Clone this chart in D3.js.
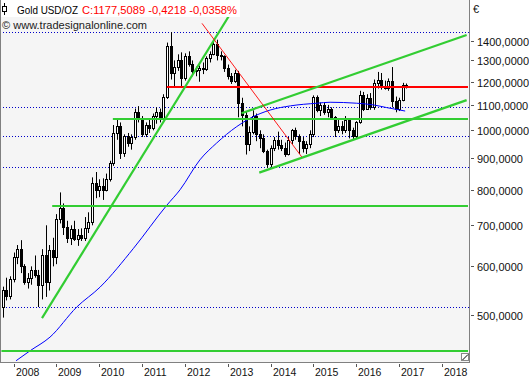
<!DOCTYPE html>
<html><head><meta charset="utf-8">
<script src="https://cdn.jsdelivr.net/npm/d3@7"></script>
<style>
html,body{margin:0;padding:0;background:#fff;overflow:hidden}
svg{display:block}
text{font-family:"Liberation Sans",Arial,sans-serif}
</style>
</head><body>
<svg id="chart" width="529" height="380"></svg>
<script>
// ---------- DATA ----------
const months = [
 "2007-10","2007-11","2007-12",
 "2008-01","2008-02","2008-03","2008-04","2008-05","2008-06","2008-07","2008-08","2008-09","2008-10","2008-11","2008-12",
 "2009-01","2009-02","2009-03","2009-04","2009-05","2009-06","2009-07","2009-08","2009-09","2009-10","2009-11","2009-12",
 "2010-01","2010-02","2010-03","2010-04","2010-05","2010-06","2010-07","2010-08","2010-09","2010-10","2010-11","2010-12",
 "2011-01","2011-02","2011-03","2011-04","2011-05","2011-06","2011-07","2011-08","2011-09","2011-10","2011-11","2011-12",
 "2012-01","2012-02","2012-03","2012-04","2012-05","2012-06","2012-07","2012-08","2012-09","2012-10","2012-11","2012-12",
 "2013-01","2013-02","2013-03","2013-04","2013-05","2013-06","2013-07","2013-08","2013-09","2013-10","2013-11","2013-12",
 "2014-01","2014-02","2014-03","2014-04","2014-05","2014-06","2014-07","2014-08","2014-09","2014-10","2014-11","2014-12",
 "2015-01","2015-02","2015-03","2015-04","2015-05","2015-06","2015-07","2015-08","2015-09","2015-10","2015-11","2015-12",
 "2016-01","2016-02","2016-03","2016-04","2016-05","2016-06","2016-07","2016-08","2016-09","2016-10","2016-11","2016-12",
 "2017-01","2017-02","2017-03"
];
const opens = [
 515,550,537,
 572,622,640,600,565,575,592,580,560,625,565,638,
 622,718,748,695,668,690,666,676,668,692,710,822,
 800,812,800,832,885,990,1018,918,978,955,975,1070,
 1045,985,1022,1010,1055,1070,1045,1135,1370,1240,1270,1300,
 1215,1320,1285,1250,1255,1265,1260,1310,1330,1385,1325,1320,
 1262,1225,1205,1240,1110,1060,950,995,1055,985,970,925,
 880,935,965,945,935,915,965,1000,978,960,935,950,
 985,1132,1080,1100,1070,1085,1050,1000,1015,1000,1040,1000,
 980,1030,1140,1085,1130,1090,1195,1210,1175,1172,1205,1115,
 1085,1122,1185
];
const highs = [
 556,575,578,
 632,650,662,605,585,600,625,592,640,700,650,668,
 730,792,760,712,700,712,690,692,722,735,838,855,
 832,835,850,892,1020,1045,1030,985,990,985,1085,1095,
 1055,1030,1045,1065,1090,1085,1145,1390,1446,1300,1330,1340,
 1335,1345,1300,1270,1275,1290,1320,1345,1400,1405,1345,1325,
 1280,1240,1255,1250,1130,1075,1015,1078,1065,1000,985,930,
 945,975,995,965,955,975,1005,1010,985,975,960,1000,
 1140,1140,1110,1110,1100,1090,1055,1045,1035,1055,1045,1010,
 1035,1160,1155,1145,1150,1210,1245,1240,1205,1215,1268,1135,
 1130,1195,1192
];
const lows = [
 495,528,530,
 565,605,585,560,552,560,575,515,530,535,548,600,
 605,705,675,655,650,660,648,660,660,680,700,775,
 778,770,795,825,875,965,898,905,940,930,965,1030,
 975,975,990,1000,1025,1030,1040,1125,1210,1175,1250,1180,
 1205,1270,1225,1225,1200,1235,1250,1290,1325,1300,1300,1245,
 1210,1190,1195,1050,1015,913,925,985,960,935,918,868,
 870,925,930,925,905,910,950,965,915,920,915,935,
 975,1070,1055,1060,1050,1040,975,990,985,990,970,965,
 970,1025,1075,1080,1080,1080,1170,1165,1165,1160,1090,1070,
 1075,1115,1170
];
const closes = [
 550,537,572,
 622,640,600,565,575,592,580,560,625,565,638,622,
 718,748,695,668,690,666,676,668,692,710,822,800,
 812,800,832,885,990,1018,918,978,955,975,1070,1045,
 985,1022,1010,1055,1070,1045,1135,1370,1240,1270,1300,1215,
 1320,1285,1250,1255,1265,1260,1310,1330,1385,1325,1320,1262,
 1225,1205,1240,1110,1060,950,995,1055,985,970,925,880,
 935,965,945,935,915,965,1000,978,960,935,950,985,
 1132,1080,1100,1070,1085,1050,1000,1015,1000,1040,1000,980,
 1030,1140,1085,1130,1090,1195,1210,1175,1172,1205,1115,1085,
 1122,1185,1177.5
];

// moving average (blue)
const maDates = ["2008-01-23","2008-05-21","2008-11-07","2009-06-23","2010-01-08","2010-10-20","2011-07-29","2011-11-21",
 "2012-05-08","2012-09-27","2013-03-18","2013-07-09","2013-12-28","2014-06-18","2015-01-30","2015-05-23",
 "2016-01-05","2016-05-27","2016-09-16","2017-02-21"];
const maValues = [421,437,460,515,555,642,754,800,895,953,1014,1046,1079,1096,1107,1111,1107,1100,1089,1075];

// horizontal levels
const greenLevels = [437, 754, 1045];
const greenLevelStarts = ["2007-09-20","2008-11-26","2010-04-27"];
const redLevels = [1178];
const redLevelStarts = ["2011-07-31"];
const dottedLevels = [1446, 1092, 979, 872, 515];

// trend lines
const greenTrendStart = ["2008-08-31","2013-04-28","2013-09-26"];
const greenTrendStartPrice = [494, 1066, 853];
const greenTrendEnd = ["2013-04-05","2018-07-30","2018-07-30"];
const greenTrendEndPrice = [1631, 1430, 1120];
const redTrendStart = ["2012-05-26"];
const redTrendStartPrice = [1494];
const redTrendEnd = ["2014-09-23"];
const redTrendEndPrice = [905];

const yTicks = [500,600,700,800,900,1000,1100,1200,1300,1400];
const xTickYears = [2008,2009,2010,2011,2012,2013,2014,2015,2016,2017,2018];

const titleText = "Gold USD/OZ";
const quoteText = "C:1177,5089 -0,4218 -0,0358%";
const copyrightText = "\u00A9 www.tradesignalonline.com";
const currencyText = "\u20AC";

// ---------- CHART ----------
const svg = d3.select("#chart");
const plotW = 469, plotH = 362;
const parse = d3.timeParse("%Y-%m-%d");
const parseM = d3.timeParse("%Y-%m");

const x = d3.scaleTime().domain([new Date(2008,0,1), new Date(2018,0,1)]).range([13.5, 442]);
const y = d3.scaleLog().domain([419, 1631]).range([plotH, 0]);
const loc = d3.formatLocale({decimal:",", thousands:".", grouping:[3], currency:["","€"]});
const fmt = loc.format(".4f");

svg.append("defs").append("clipPath").attr("id","clip")
  .append("rect").attr("x",0).attr("y",0).attr("width",plotW).attr("height",plotH);

svg.append("rect").attr("x",0).attr("y",0).attr("width",plotW).attr("height",plotH).attr("fill","#f5f5f5");

const plot = svg.append("g").attr("clip-path","url(#clip)");

// dotted levels
plot.selectAll(".dot").data(dottedLevels).enter().append("line")
  .attr("x1",0).attr("x2",plotW)
  .attr("y1",d=>Math.round(y(d))+0.5).attr("y2",d=>Math.round(y(d))+0.5)
  .attr("stroke","#0000c8").attr("stroke-width",1).attr("stroke-dasharray","1,2");

// legend box
svg.append("rect").attr("x",1).attr("y",0).attr("width",239).attr("height",17).attr("fill","#ffffff");

// candles
const candles = months.map((m,i)=>({d:parseM(m),o:opens[i],h:highs[i],l:lows[i],c:closes[i]}));
const cg = plot.append("g");
candles.forEach(k=>{
  const cx = Math.round(x(k.d));
  cg.append("line").attr("x1",cx+0.5).attr("x2",cx+0.5)
    .attr("y1",y(k.h)).attr("y2",y(k.l)).attr("stroke","#000").attr("stroke-width",1);
  const top = Math.round(Math.min(y(k.o),y(k.c)));
  const bot = Math.round(Math.max(y(k.o),y(k.c)));
  cg.append("rect").attr("x",cx-0.5).attr("y",top+0.5).attr("width",2)
    .attr("height",Math.max(1,bot-top))
    .attr("fill", k.c>=k.o ? "#ffffff" : "#000000")
    .attr("stroke","#000").attr("stroke-width",1);
});

// moving average
const maLine = d3.line().x(d=>x(d[0])).y(d=>y(d[1])).curve(d3.curveMonotoneX);
plot.append("path").datum(maDates.map((d,i)=>[parse(d),maValues[i]]))
  .attr("d",maLine).attr("fill","none").attr("stroke","#0000ff").attr("stroke-width",1);

// horizontal levels
const xEnd = plotW - 1;
plot.selectAll(".gl").data(greenLevels).enter().append("line")
  .attr("x1",(d,i)=>x(parse(greenLevelStarts[i]))).attr("x2",xEnd)
  .attr("y1",d=>Math.round(y(d))).attr("y2",d=>Math.round(y(d)))
  .attr("stroke","#32cd32").attr("stroke-width",2);
plot.selectAll(".rl").data(redLevels).enter().append("line")
  .attr("x1",(d,i)=>x(parse(redLevelStarts[i]))).attr("x2",xEnd)
  .attr("y1",d=>Math.round(y(d))).attr("y2",d=>Math.round(y(d)))
  .attr("stroke","#ff0000").attr("stroke-width",2);

// trend lines
plot.selectAll(".gt").data(greenTrendStart).enter().append("line")
  .attr("x1",d=>x(parse(d))).attr("y1",(d,i)=>y(greenTrendStartPrice[i]))
  .attr("x2",(d,i)=>x(parse(greenTrendEnd[i]))).attr("y2",(d,i)=>y(greenTrendEndPrice[i]))
  .attr("stroke","#32cd32").attr("stroke-width",2.2);
plot.selectAll(".rt").data(redTrendStart).enter().append("line")
  .attr("x1",d=>x(parse(d))).attr("y1",(d,i)=>y(redTrendStartPrice[i]))
  .attr("x2",(d,i)=>x(parse(redTrendEnd[i]))).attr("y2",(d,i)=>y(redTrendEndPrice[i]))
  .attr("stroke","#ff0000").attr("stroke-width",0.9);

// frame
svg.append("line").attr("x1",0.5).attr("x2",0.5).attr("y1",0).attr("y2",plotH).attr("stroke","#808080");
svg.append("line").attr("x1",plotW+0.5).attr("x2",plotW+0.5).attr("y1",0).attr("y2",plotH+0.5).attr("stroke","#808080");
svg.append("line").attr("x1",0).attr("x2",plotW+1).attr("y1",plotH+0.5).attr("y2",plotH+0.5).attr("stroke","#808080");

// corner icon
svg.append("rect").attr("x",461.5).attr("y",353.5).attr("width",7).attr("height",7).attr("fill","#fff").attr("stroke","#888");
svg.append("line").attr("x1",462.5).attr("y1",360).attr("x2",468).attr("y2",354.5).attr("stroke","#000");

// right axis
const yAxis = svg.append("g");
yTicks.forEach(t=>{
  const yy = Math.round(y(t))+0.5;
  yAxis.append("line").attr("x1",471).attr("x2",474).attr("y1",yy).attr("y2",yy).attr("stroke","#555");
  yAxis.append("text").attr("x",477).attr("y",yy+4).attr("font-size","11px").attr("fill","#111").text(fmt(t));
});
svg.append("text").attr("x",473).attr("y",13).attr("font-size","11px").attr("fill","#111").text(currencyText);

// bottom axis
const xAxis = svg.append("g");
xTickYears.forEach(yr=>{
  const xx = Math.round(x(new Date(yr,0,1)))+0.5;
  xAxis.append("line").attr("x1",xx).attr("x2",xx).attr("y1",364).attr("y2",367).attr("stroke","#555");
  xAxis.append("text").attr("x",xx+1.5).attr("y",376).attr("font-size","10.5px").attr("fill","#111").text(yr);
});

// legend
const lg = svg.append("g");
lg.append("line").attr("x1",4.5).attr("x2",4.5).attr("y1",3).attr("y2",15).attr("stroke","#000");
lg.append("rect").attr("x",2.5).attr("y",6.5).attr("width",4).attr("height",5).attr("fill","#fff").attr("stroke","#000");
lg.append("text").attr("x",17).attr("y",13.5).attr("font-size","11px").attr("fill","#000")
  .attr("textLength",61).attr("lengthAdjust","spacingAndGlyphs").text(titleText);
lg.append("text").attr("x",82).attr("y",13.5).attr("font-size","11px").attr("fill","#ff0000")
  .attr("textLength",155).attr("lengthAdjust","spacingAndGlyphs").text(quoteText);
lg.append("text").attr("x",2).attr("y",28.5).attr("font-size","11px").attr("fill","#222")
  .attr("textLength",145).attr("lengthAdjust","spacingAndGlyphs").text(copyrightText);
</script>
</body></html>
